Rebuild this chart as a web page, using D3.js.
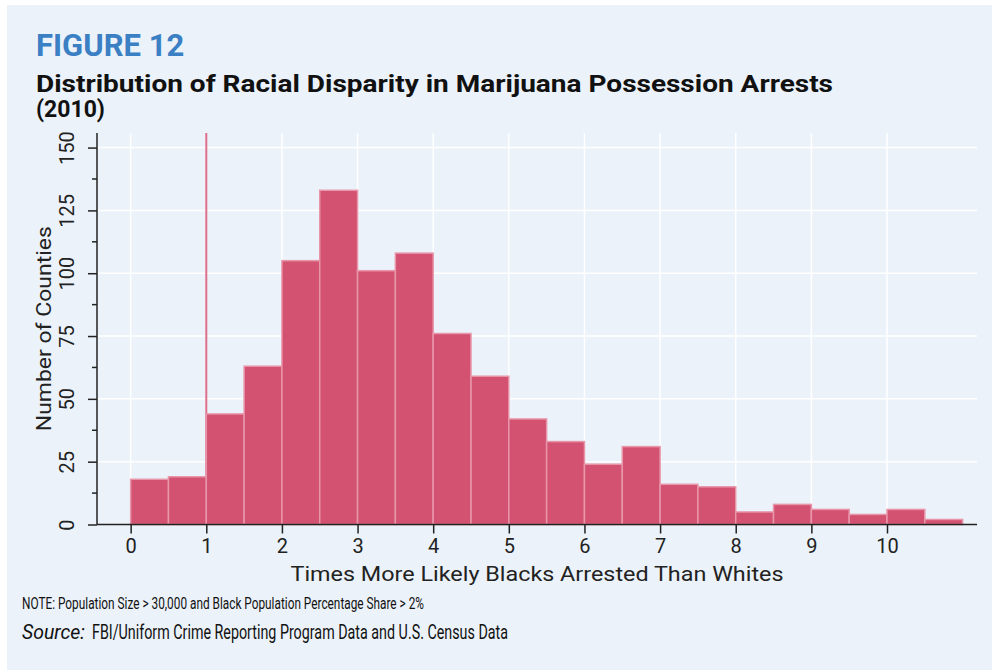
<!DOCTYPE html>
<html>
<head>
<meta charset="utf-8">
<script src="https://cdn.jsdelivr.net/npm/d3@7"></script>
<style>
  body { margin: 0; background: #fff; }
  svg { display: block; }
  text { font-family: Roboto, "DejaVu Sans", sans-serif; }
</style>
</head>
<body>
<div id="chart"></div>
<script>
// histogram bins (left edge, width 0.5) and county counts
const binStart = [0, 0.5, 1, 1.5, 2, 2.5, 3, 3.5, 4, 4.5, 5, 5.5, 6, 6.5, 7, 7.5, 8, 8.5, 9, 9.5, 10, 10.5];
const counts = [18, 19, 44, 63, 105, 133, 101, 108, 76, 59, 42, 33, 24, 31, 16, 15, 5, 8, 6, 4, 6, 2];
const binWidth = 0.5;
const xTicks = [0, 1, 2, 3, 4, 5, 6, 7, 8, 9, 10];
const yTicks = [0, 25, 50, 75, 100, 125, 150];
const yMinor = [12.5, 37.5, 62.5, 87.5, 112.5, 137.5];
const refLine = 1;

const W = 992, H = 670;
const plot = { left: 97, right: 977, top: 133, bottom: 524.5 };

const svg = d3.select("#chart").append("svg")
  .attr("width", W).attr("height", H);

// panel background
svg.append("rect")
  .attr("x", 7).attr("y", 5)
  .attr("width", W - 7).attr("height", H - 5)
  .attr("fill", "#ebf2f9");

const x = d3.scaleLinear().domain([-0.445, 11.19]).range([plot.left, plot.right]);
const y = d3.scaleLinear().domain([0, 155.8]).range([plot.bottom, plot.top]);

// grid
svg.append("g").selectAll("line")
  .data(yTicks.filter(d => d > 0))
  .join("line")
  .attr("x1", plot.left).attr("x2", plot.right)
  .attr("y1", d => y(d)).attr("y2", d => y(d))
  .attr("stroke", "#fff").attr("stroke-width", 1.5);

svg.append("g").selectAll("line")
  .data(xTicks)
  .join("line")
  .attr("x1", d => x(d)).attr("x2", d => x(d))
  .attr("y1", plot.top).attr("y2", plot.bottom)
  .attr("stroke", "#fff").attr("stroke-width", 1.5);

// reference line at 1
svg.append("line")
  .attr("x1", x(refLine)).attr("x2", x(refLine))
  .attr("y1", plot.top).attr("y2", plot.bottom)
  .attr("stroke", "#de6f8b").attr("stroke-width", 2);

// bars
svg.append("g").selectAll("rect")
  .data(binStart)
  .join("rect")
  .attr("x", d => x(d))
  .attr("y", (d, i) => y(counts[i]))
  .attr("width", d => x(d + binWidth) - x(d))
  .attr("height", (d, i) => y(0) - y(counts[i]))
  .attr("fill", "#d35271")
  .attr("stroke", "#e896aa")
  .attr("stroke-width", 1.5);

// x axis
const xAxis = svg.append("g")
  .attr("transform", `translate(0,${plot.bottom})`)
  .call(d3.axisBottom(x).tickValues(xTicks).tickSize(9).tickPadding(5).tickSizeOuter(0));
xAxis.select(".domain").attr("stroke", "#222").attr("stroke-width", 1.5)
  .attr("d", `M${plot.left},0H${plot.right}`);
xAxis.selectAll(".tick line").attr("stroke", "#222").attr("stroke-width", 1.5);
xAxis.selectAll(".tick text").attr("font-size", 20).attr("fill", "#222")
  .attr("font-family", "Roboto");

// y axis
const yAxis = svg.append("g")
  .attr("transform", `translate(${plot.left},0)`)
  .call(d3.axisLeft(y).tickValues(yTicks).tickSize(9).tickPadding(0).tickSizeOuter(0));
yAxis.select(".domain").attr("stroke", "#222").attr("stroke-width", 1.5)
  .attr("d", `M0,${plot.top}V${plot.bottom}`);
yAxis.selectAll(".tick line").attr("stroke", "#222").attr("stroke-width", 1.5);
yAxis.selectAll(".tick text")
  .attr("font-size", 20).attr("fill", "#222")
  .attr("x", null).attr("dy", null)
  .attr("text-anchor", "middle")
  .attr("transform", "translate(-23,0) rotate(-90)");

yAxis.append("g").selectAll("line")
  .data(yMinor)
  .join("line")
  .attr("x1", -5).attr("x2", 0)
  .attr("y1", d => y(d)).attr("y2", d => y(d))
  .attr("stroke", "#222").attr("stroke-width", 1.5);

// axis titles
svg.append("text")
  .attr("x", (plot.left + plot.right) / 2).attr("y", 581)
  .attr("text-anchor", "middle")
  .attr("font-size", 21).attr("fill", "#222")
  .attr("textLength", 493).attr("lengthAdjust", "spacingAndGlyphs")
  .text("Times More Likely Blacks Arrested Than Whites");

svg.append("text")
  .attr("transform", `translate(51,${(plot.top + plot.bottom) / 2}) rotate(-90)`)
  .attr("text-anchor", "middle")
  .attr("font-size", 21).attr("fill", "#222")
  .attr("textLength", 205).attr("lengthAdjust", "spacingAndGlyphs")
  .text("Number of Counties");

// headings
svg.append("text")
  .attr("x", 36).attr("y", 56)
  .attr("font-size", 31).attr("font-weight", "bold").attr("fill", "#3b7fc4")
  .text("FIGURE 12");

svg.append("text")
  .attr("x", 36).attr("y", 92)
  .attr("font-size", 23).attr("font-weight", "bold").attr("fill", "#111")
  .attr("textLength", 797).attr("lengthAdjust", "spacingAndGlyphs")
  .text("Distribution of Racial Disparity in Marijuana Possession Arrests");

svg.append("text")
  .attr("x", 36).attr("y", 117)
  .attr("font-size", 23).attr("font-weight", "bold").attr("fill", "#111")
  .text("(2010)");

// notes
svg.append("text")
  .attr("x", 22).attr("y", 609)
  .attr("font-size", 17).attr("fill", "#111")
  .attr("textLength", 402).attr("lengthAdjust", "spacingAndGlyphs")
  .text("NOTE: Population Size > 30,000 and Black Population Percentage Share > 2%");

svg.append("text")
  .attr("x", 22).attr("y", 639)
  .attr("font-size", 21).attr("font-style", "italic").attr("fill", "#111")
  .attr("textLength", 63).attr("lengthAdjust", "spacingAndGlyphs")
  .text("Source:");

svg.append("text")
  .attr("x", 92).attr("y", 639)
  .attr("font-size", 21).attr("fill", "#111")
  .attr("textLength", 416).attr("lengthAdjust", "spacingAndGlyphs")
  .text("FBI/Uniform Crime Reporting Program Data and U.S. Census Data");
</script>
</body>
</html>
